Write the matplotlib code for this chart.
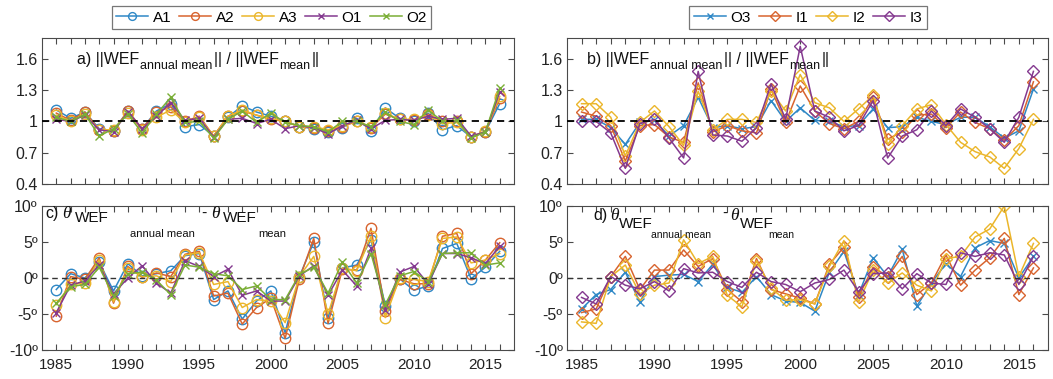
import matplotlib
matplotlib.use("Agg")
import matplotlib.pyplot as plt
import numpy as np

plt.rcParams['font.family'] = ['Liberation Sans', 'DejaVu Sans']
plt.rcParams['mathtext.fontset'] = 'custom'
plt.rcParams['mathtext.rm'] = 'Liberation Sans'
plt.rcParams['mathtext.it'] = 'Liberation Sans:italic'

years = list(range(1985, 2017))

# a) ratio of annual mean WEF norm to mean WEF norm
A1_ratio = [1.11, 1.03, 1.09, 0.93, 0.91, 1.10, 0.93, 1.10, 1.17, 0.95, 0.97, 0.86, 1.04, 1.15, 1.09, 1.05,
            1.00, 0.95, 0.93, 0.90, 0.94, 1.03, 0.91, 1.13, 1.03, 1.00, 1.08, 0.92, 0.96, 0.85, 0.90, 1.17]
A2_ratio = [1.08, 1.01, 1.09, 0.92, 0.91, 1.10, 0.93, 1.09, 1.14, 1.00, 1.05, 0.86, 1.05, 1.10, 1.06, 1.02,
            1.00, 0.95, 0.94, 0.91, 0.95, 1.00, 0.94, 1.07, 1.02, 1.01, 1.07, 1.00, 1.00, 0.85, 0.90, 1.22]
A3_ratio = [1.06, 1.00, 1.07, 0.92, 0.92, 1.08, 0.92, 1.04, 1.11, 0.99, 1.04, 0.86, 1.05, 1.11, 1.06, 1.03,
            1.00, 0.95, 0.95, 0.92, 0.96, 1.00, 0.95, 1.08, 1.02, 1.02, 1.06, 0.98, 0.99, 0.85, 0.91, 1.24]
O1_ratio = [1.02, 1.00, 1.06, 0.92, 0.90, 1.09, 0.93, 1.05, 1.18, 1.01, 1.03, 0.85, 1.02, 1.03, 0.98, 1.02,
            0.93, 0.96, 0.94, 0.88, 0.96, 1.01, 0.93, 1.01, 1.02, 1.01, 1.05, 1.02, 1.03, 0.86, 0.90, 1.28]
O2_ratio = [1.04, 1.00, 1.07, 0.86, 0.93, 1.07, 0.89, 1.07, 1.23, 0.99, 1.00, 0.84, 1.02, 1.10, 0.99, 1.08,
            0.99, 0.96, 0.95, 0.90, 1.00, 1.00, 0.95, 1.09, 1.00, 0.97, 1.11, 1.00, 1.01, 0.84, 0.90, 1.32]

# b)
O3_ratio = [1.02, 1.02, 0.94, 0.78, 0.99, 1.01, 0.86, 0.96, 1.23, 0.94, 0.96, 0.93, 0.95, 1.20, 1.00, 1.13,
            1.01, 1.00, 0.95, 0.96, 1.12, 0.94, 0.95, 1.04, 1.00, 0.97, 1.04, 1.04, 0.95, 0.84, 0.91, 1.31]
I1_ratio = [1.09, 1.05, 0.96, 0.62, 0.96, 0.97, 0.85, 0.80, 1.37, 0.90, 0.96, 0.91, 0.89, 1.31, 0.99, 1.34,
            1.10, 0.98, 0.93, 1.00, 1.23, 0.83, 0.90, 1.06, 1.07, 0.94, 1.09, 0.99, 0.93, 0.82, 0.96, 1.38]
I2_ratio = [1.17, 1.17, 1.04, 0.67, 0.99, 1.10, 0.95, 0.77, 1.29, 0.92, 1.02, 1.02, 0.99, 1.29, 1.10, 1.45,
            1.18, 1.13, 1.00, 1.12, 1.25, 0.78, 0.96, 1.12, 1.16, 0.97, 0.80, 0.71, 0.66, 0.55, 0.74, 1.02]
I3_ratio = [1.00, 1.00, 0.89, 0.55, 0.98, 1.02, 0.84, 0.65, 1.48, 0.87, 0.86, 0.81, 0.94, 1.36, 1.02, 1.72,
            1.10, 1.04, 0.91, 0.96, 1.20, 0.65, 0.86, 0.92, 1.10, 0.96, 1.12, 1.04, 0.93, 0.80, 1.04, 1.48]

# c) direction difference (degrees)
A1_theta = [-1.6, 0.6, 0.0, 2.2, -1.8, 2.0, 0.3, 0.6, 1.0, 3.1, 3.4, -3.0, -1.8, -5.7, -3.2, -1.8,
            -7.6, 0.2, 5.0, -5.5, 1.4, 1.8, 5.3, -3.9, -0.1, -1.7, -1.1, 4.1, 4.8, -0.1, 1.5, 3.7]
A2_theta = [-5.3, 0.2, -0.2, 2.8, -3.5, 1.6, 0.1, 0.7, 0.2, 3.3, 3.7, -2.5, -2.1, -6.4, -4.1, -2.8,
            -8.4, -0.1, 5.5, -6.3, 1.2, 1.1, 6.9, -4.6, -0.2, -0.8, -0.8, 5.8, 6.2, 0.6, 2.5, 4.9]
A3_theta = [-3.7, -0.9, -0.7, 2.5, -3.3, 1.4, 0.2, 0.3, -0.5, 3.2, 3.5, -0.9, -0.5, -4.1, -3.0, -3.2,
            -6.2, 0.2, 3.0, -5.0, 1.4, 1.0, 5.8, -5.5, 0.0, -0.2, -0.5, 5.5, 5.7, 2.1, 2.5, 3.4]
O1_theta = [-4.8, -1.0, -0.4, 1.8, -2.2, 0.0, 1.7, -0.7, -2.1, 2.4, 1.6, 0.2, 1.2, -2.4, -1.8, -3.2,
            -3.2, 0.3, 1.7, -2.4, 1.1, -1.1, 4.1, -4.4, 0.8, 1.6, -0.8, 3.4, 3.4, 2.8, 2.0, 4.4]
O2_theta = [-3.5, -1.2, -0.9, 1.5, -2.5, 0.6, 0.8, -0.3, -2.3, 1.8, 1.5, 0.6, 0.3, -1.6, -1.1, -3.0,
            -3.0, 0.5, 1.5, -2.1, 2.2, -0.7, 3.4, -3.7, 0.3, 0.9, -0.5, 3.4, 3.5, 3.5, 1.8, 2.1]

# d)
O3_theta = [-4.3, -2.3, -1.6, 0.8, -3.3, 0.2, 0.4, 0.5, -0.5, 1.9, -1.3, -2.0, 0.2, -2.3, -3.2, -3.4,
            -4.6, 0.8, 3.7, -2.3, 2.8, 0.2, 4.0, -3.9, -0.7, 2.0, 0.2, 4.2, 5.2, 4.8, 0.0, 3.0]
I1_theta = [-4.8, -4.3, 0.2, 3.0, -1.6, 1.1, 1.1, 3.9, 1.6, 2.7, -1.6, -3.3, 2.7, -1.6, -2.2, -2.8,
            -3.6, 1.9, 4.3, -2.6, 1.5, 0.2, 3.0, -2.3, -0.7, 3.2, -1.0, 1.1, 2.8, 5.5, -2.3, 1.4]
I2_theta = [-6.1, -6.3, 0.2, 1.8, -2.2, -1.0, -0.7, 5.3, 2.0, 3.0, -2.4, -4.0, 2.4, -1.4, -3.1, -3.0,
            -3.6, 1.6, 5.2, -3.4, 1.1, -0.7, 0.7, -1.0, -1.8, 2.7, 3.0, 5.7, 6.8, 10.0, 0.2, 4.8]
I3_theta = [-2.7, -3.6, 0.2, -1.0, -1.5, -0.5, -1.8, 1.3, 0.7, 0.8, -0.5, -1.3, 0.8, -0.5, -0.9, -1.9,
            -0.7, -0.2, 1.1, -1.9, 0.6, 0.7, -1.5, 0.6, -0.7, -0.9, 3.5, 3.0, 3.5, 3.2, -0.9, 3.0]

blue, orange, yellow, purple, green = '#2f88c6', '#d8642f', '#ebb62b', '#84398f', '#7aae36'

W, H = 1053, 379
fig = plt.figure(figsize=(W / 100, H / 100), dpi=100)
renderer = fig.canvas.get_renderer()


def add_axes(left, top, right, bottom):
    return fig.add_axes([left / W, 1 - bottom / H, (right - left) / W, (bottom - top) / H])


ax_a = add_axes(42, 38, 514, 184)
ax_b = add_axes(567, 38, 1048, 184)
ax_c = add_axes(42, 206, 514, 350)
ax_d = add_axes(567, 206, 1048, 350)

left_series = [("A1", blue, 'o'), ("A2", orange, 'o'), ("A3", yellow, 'o'), ("O1", purple, 'x'), ("O2", green, 'x')]
right_series = [("O3", blue, 'x'), ("I1", orange, 'D'), ("I2", yellow, 'D'), ("I3", purple, 'D')]


def draw(ax, series, data):
    handles = []
    for (name, color, mk), vals in zip(series, data):
        ms = {'o': 7.5, 'x': 5.5, 'D': 6.2}[mk]
        h, = ax.plot(years, vals, color=color, lw=1.1, marker=mk, ms=ms,
                     mfc='none', mec=color, mew=1.0, label=name)
        handles.append(h)
    return handles


h_left = draw(ax_a, left_series, [A1_ratio, A2_ratio, A3_ratio, O1_ratio, O2_ratio])
draw(ax_c, left_series, [A1_theta, A2_theta, A3_theta, O1_theta, O2_theta])
h_right = draw(ax_b, right_series, [O3_ratio, I1_ratio, I2_ratio, I3_ratio])
draw(ax_d, right_series, [O3_theta, I1_theta, I2_theta, I3_theta])

ratio_ticks = [0.4, 0.7, 1.0, 1.3, 1.6]
ratio_labels = ["0.4", "0.7", "1", "1.3", "1.6"]
theta_ticks = [-10, -5, 0, 5, 10]
theta_labels = ["-10º", "-5º", "0º", "5º", "10º"]
axis_col = '#4a4a4a'

for ax in (ax_a, ax_b, ax_c, ax_d):
    ax.set_xlim(1984, 2017)
    ax.set_xticks(years)
    ax.tick_params(direction='in', top=True, right=True, length=4, width=0.8,
                   colors=axis_col, labelcolor='#222222')
    ax.tick_params(axis='y', labelsize=11.5, pad=3)
    ax.tick_params(axis='x', labelsize=11, pad=6)
    for sp in ax.spines.values():
        sp.set_color(axis_col)
        sp.set_linewidth(0.8)

for ax in (ax_a, ax_b):
    ax.set_ylim(0.4, 1.8)
    ax.set_yticks(ratio_ticks)
    ax.set_yticklabels(ratio_labels)
    ax.set_xticklabels([])
    ax.axhline(1, color='black', lw=1.3, ls=(0, (4, 3)), zorder=5)

for ax in (ax_c, ax_d):
    ax.set_ylim(-10, 10)
    ax.set_yticks(theta_ticks)
    ax.set_yticklabels(theta_labels)
    ax.set_xticklabels([str(y) if y % 5 == 0 else "" for y in years])
    ax.axhline(0, color='#333333', lw=1.0, ls=(0, (4, 3)), zorder=5)

for handles, cx in ((h_left, 271.5), (h_right, 808)):
    leg = fig.legend(handles=handles, loc='center', bbox_to_anchor=(cx / W, 1 - 17.5 / H),
                     ncol=len(handles), fontsize=11, frameon=True, fancybox=False,
                     handlelength=2.1, handletextpad=0.3, columnspacing=0.5,
                     borderpad=0.3, numpoints=1, markerscale=0.75)
    leg.get_frame().set_edgecolor('#555555')
    leg.get_frame().set_linewidth(0.9)


def put(x, y, s, size, **kw):
    t = fig.text(x / W, 1 - y / H, s, fontsize=size, va='baseline', ha='left', color='#111111', **kw)
    return t.get_window_extent(renderer).x1


def flow(x, pieces):
    # pieces: (text, size, baseline_y, gap_before)
    for s, size, y, gap in pieces:
        x = put(x + gap, y, s, size)


theta_kw = dict(family='Liberation Serif', style='italic')

# panel titles a) and b)
for x0, lab in ((77, "a)"), (587, "b)")):
    flow(x0, [(lab + " ||WEF", 11.5, 64, 0), ("annual mean", 9, 69, 1),
              ("|| / ||WEF", 11.5, 64, 1), ("mean", 9, 69, 1), ("||", 11.5, 64, 1)])

# panel titles c) and d): (dx, dy) layout offsets per piece
c_layout = dict(lab=(0, 218), th1=(17, 218), wef1=(30, 222), sub1=(85, 237),
                dash=(156, 218), th2=(166, 218), wef2=(178, 222), sub2=(213, 237))
d_layout = dict(lab=(0, 220), th1=(17, 220), wef1=(26, 228), sub1=(58, 238),
                dash=(129, 218), th2=(137, 220), wef2=(147, 228), sub2=(175, 238))
for x0, lab, L, subsize in ((45, "c)", c_layout, 8), (593, "d)", d_layout, 7.5)):
    put(x0 + L['lab'][0], L['lab'][1], lab, 11.5)
    put(x0 + L['th1'][0], L['th1'][1], "θ", 12.5, **theta_kw)
    put(x0 + L['wef1'][0], L['wef1'][1], "WEF", 11)
    put(x0 + L['sub1'][0], L['sub1'][1], "annual mean", subsize)
    put(x0 + L['dash'][0], L['dash'][1], "-", 11.5)
    put(x0 + L['th2'][0], L['th2'][1], "θ", 12.5, **theta_kw)
    put(x0 + L['wef2'][0], L['wef2'][1], "WEF", 11)
    put(x0 + L['sub2'][0], L['sub2'][1], "mean", subsize)

fig.savefig("out.png", dpi=100)
